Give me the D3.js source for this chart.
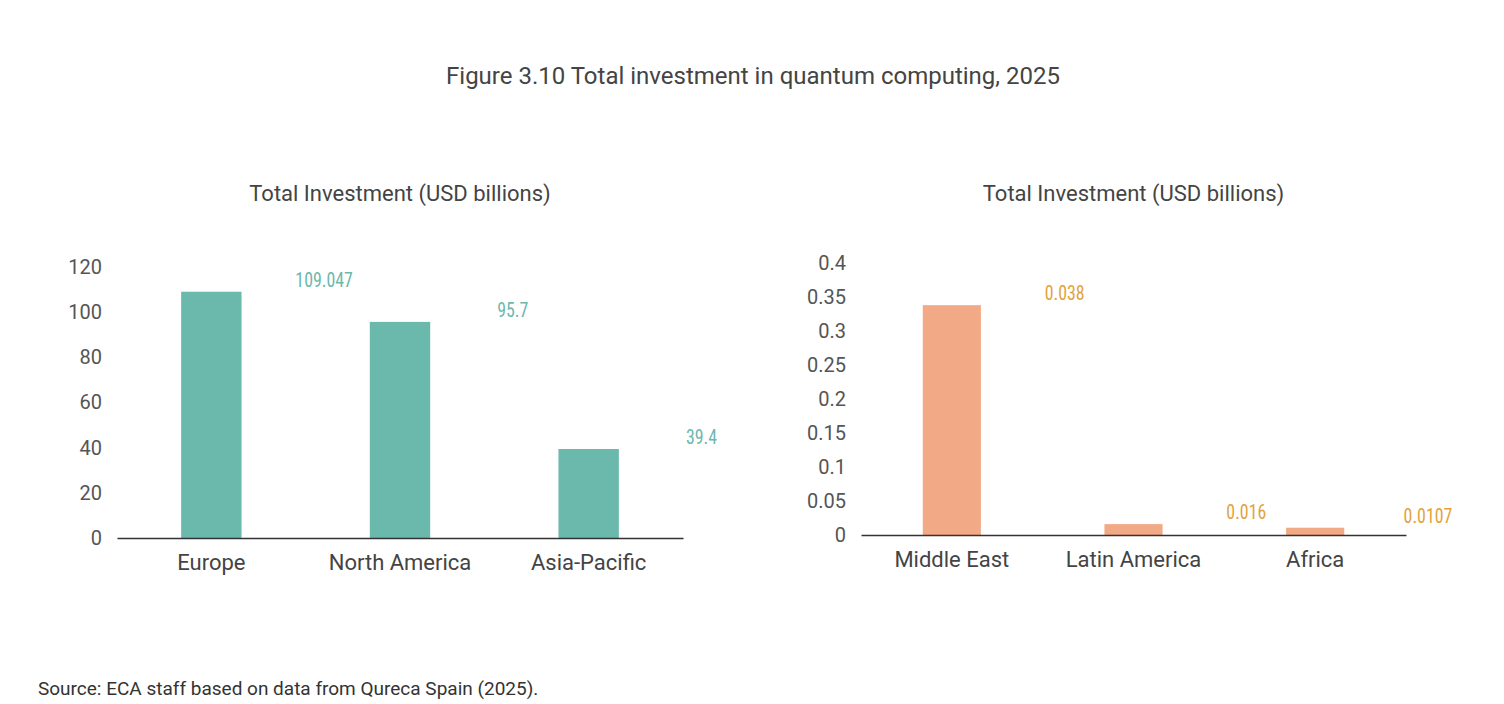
<!DOCTYPE html>
<html><head><meta charset="utf-8">
<script src="https://cdn.jsdelivr.net/npm/d3@7"></script>
<style>body{margin:0;background:#fff}text{font-family:Roboto,sans-serif}</style>
</head><body><svg id="c" width="1504" height="704"></svg>
<script>
'use strict';
const leftCats = ['Europe', 'North America', 'Asia-Pacific'];
const leftValues = [109.047, 95.7, 39.4];
const leftLabels = ['109.047', '95.7', '39.4'];
const leftTicks = [0, 20, 40, 60, 80, 100, 120];

const rightCats = ['Middle East', 'Latin America', 'Africa'];
const rightValues = [0.338, 0.016, 0.0107];
const rightLabels = ['0.038', '0.016', '0.0107'];
const rightTicks = [0, 0.05, 0.1, 0.15, 0.2, 0.25, 0.3, 0.35, 0.4];

const svg = d3.select('#c');
svg.append('text').attr('x', 753).attr('y', 84).attr('text-anchor', 'middle')
  .attr('font-size', 24).attr('fill', '#444').text('Figure 3.10 Total investment in quantum computing, 2025');
svg.append('text').attr('x', 38).attr('y', 695).attr('font-size', 19).attr('fill', '#333')
  .text('Source: ECA staff based on data from Qureca Spain (2025).');

const panel = (o) => {
  const g = svg.append('g');
  const x = d3.scaleBand().domain(o.cats).range([o.x0, o.x1]).paddingInner(0.68).paddingOuter(0.34);
  const y = d3.scaleLinear().domain([0, o.max]).range([o.y0, o.yTop]);
  g.append('text').attr('x', (o.x0 + o.x1) / 2).attr('y', 201).attr('text-anchor', 'middle')
    .attr('font-size', 22).attr('fill', '#444').text('Total Investment (USD billions)');
  const ya = g.append('g').attr('transform', `translate(${o.x0 - 12},0)`)
    .call(d3.axisLeft(y).tickValues(o.ticks).tickSize(0).tickFormat(d => String(d)));
  ya.select('.domain').remove();
  ya.selectAll('text').attr('font-size', 20).attr('fill', '#555').attr('font-family', 'Roboto');
  g.selectAll('rect').data(o.vals).join('rect')
    .attr('x', (d, i) => x(o.cats[i])).attr('width', x.bandwidth())
    .attr('y', d => y(d)).attr('height', d => o.y0 - y(d)).attr('fill', o.color);
  g.selectAll('.lab').data(o.vals).join('text')
    .attr('x', (d, i) => x(o.cats[i]) + x.bandwidth() / 2).attr('y', d => y(d) - 5)
    .attr('text-anchor', 'middle').attr('font-size', 21).attr('fill', o.labColor)
    .attr('transform-origin', 'center').style('font-stretch', 'condensed')
    .text((d, i) => o.labels[i])
    .each(function () { const t = d3.select(this); t.attr('transform', `translate(${+t.attr('x') * 0.15},0) scale(0.85,1)`); });
  const xa = g.append('g').attr('transform', `translate(0,${o.y0})`)
    .call(d3.axisBottom(x).tickSize(0).tickPadding(16));
  xa.select('.domain').attr('stroke', '#333').attr('stroke-width', 1.5);
  xa.selectAll('text').attr('font-size', 22).attr('fill', '#444').attr('font-family', 'Roboto');
};

panel({cats: leftCats, vals: leftValues, labels: leftLabels, ticks: leftTicks, max: 120,
  x0: 117, x1: 683, y0: 538, yTop: 267, color: '#6bb8ad', labColor: '#6bb8ad'});
panel({cats: rightCats, vals: rightValues, labels: rightLabels, ticks: rightTicks, max: 0.4,
  x0: 861, x1: 1406, y0: 535, yTop: 263, color: '#f2a985', labColor: '#e3a23c'});
</script></body></html>
